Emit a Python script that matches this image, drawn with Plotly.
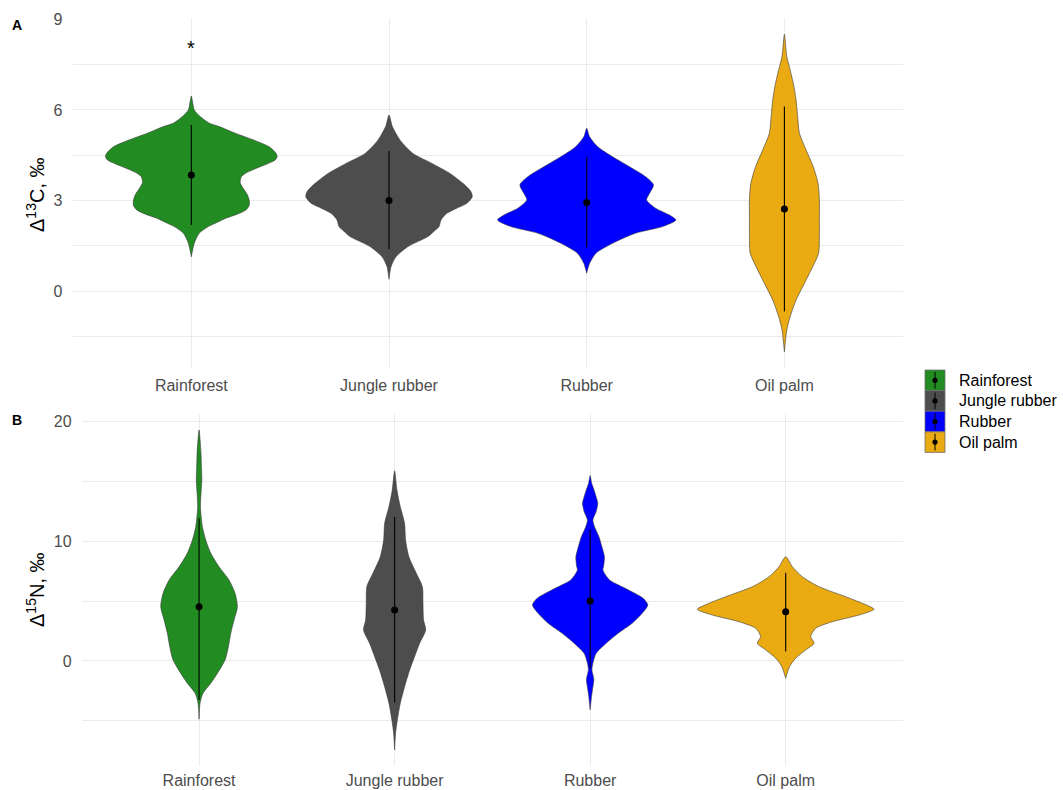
import plotly.graph_objects as go

categories = ["Rainforest", "Jungle rubber", "Rubber", "Oil palm"]
colors = ["#228B22", "#4D4D4D", "#0000FF", "#EAAA11"]

# ---- Panel A: delta 13C  (density profile: value, half-width in category units)
c13_rf_y = [6.46, 6.2, 6.0, 5.78, 5.56, 5.45, 5.23, 5.01, 4.78, 4.56, 4.45, 4.34, 4.23, 4.12, 4.01,
            3.9, 3.79, 3.6, 3.4, 3.2, 3.0, 2.85, 2.7, 2.55, 2.41, 2.25, 2.14, 1.92, 1.59, 1.14]
c13_rf_w = [0, .008, .015, .045, .091, .141, .222, .313, .394, .429, .434, .424, .389, .348, .308,
            .273, .253, .247, .263, .283, .293, .293, .278, .232, .172, .121, .086, .040, .015, 0]
c13_jr_y = [5.83, 5.45, 5.0, 4.56, 4.23, 3.9, 3.57, 3.30, 3.13, 2.91, 2.75, 2.58, 2.36, 2.14, 1.98,
            1.81, 1.48, 1.14, 0.81, 0.40]
c13_jr_w = [0, .017, .056, .121, .217, .308, .374, .414, .421, .394, .343, .293, .263, .253, .227,
            .197, .096, .035, .010, 0]
c13_ru_y = [5.39, 5.12, 4.78, 4.45, 4.12, 3.79, 3.52, 3.24, 3.02, 2.75, 2.52, 2.36, 2.14, 1.92, 1.59,
            1.26, 0.93, 0.60]
c13_ru_w = [0, .014, .056, .131, .217, .298, .338, .318, .303, .348, .419, .451, .384, .247, .131,
            .047, .015, 0]
c13_op_y = [8.50, 7.76, 7.43, 6.88, 6.33, 5.78, 5.23, 4.67, 4.12, 3.57, 3.02, 2.47, 1.92, 1.26, 0.81,
            0.26, -0.29, -0.84, -1.28, -2.0]
c13_op_w = [0, .012, .025, .045, .059, .067, .076, .110, .146, .170, .177, .177, .177, .173, .143,
            .101, .059, .029, .012, 0]
c13_mean = [3.85, 3.00, 2.94, 2.72]
c13_lo = [2.19, 1.39, 1.46, -0.67]
c13_hi = [5.50, 4.64, 4.43, 6.11]
c13_sig = ["*", "", "", ""]
c13_sig_y = [8.15, None, None, None]

# ---- Panel B: delta 15N
n15_rf_y = [19.3, 17.35, 16.23, 15.12, 14.01, 12.89, 11.22, 10.11, 9.0, 7.88, 6.77, 5.66, 4.54, 3.43,
            2.31, 1.19, 0.08, -1.03, -1.86, -2.7, -3.53, -4.87]
n15_rf_w = [0, .010, .012, .014, .010, .007, .017, .034, .060, .102, .153, .184, .196, .179,
            .162, .150, .133, .094, .060, .020, .005, 0]
n15_jr_y = [15.9, 14.29, 12.89, 11.5, 10.11, 8.71, 7.33, 6.21, 4.82, 3.43, 2.59, 1.48, 0.36, -0.75,
            -2.15, -3.53, -4.93, -6.04, -7.44]
n15_jr_w = [0, .012, .029, .051, .056, .073, .111, .142, .145, .148, .159, .128, .102, .077,
            .051, .029, .014, .005, 0]
n15_ru_y = [15.5, 14.85, 14.3, 13.6, 13.17, 12.5, 11.78, 11.2, 10.38, 9.5, 8.71, 7.9, 7.6, 6.77, 6.2,
            5.6, 5.24, 4.68, 3.98, 3.15, 2.31, 1.48, 0.64, -0.19, -0.75, -1.2, -1.59, -2.3, -2.98, -4.09]
n15_ru_w = [0, .008, .020, .033, .039, .031, .014, .023, .045, .061, .073, .069, .065, .099, .164,
            .235, .271, .295, .266, .215, .143, .082, .031, .014, .009, .015, .019, .013, .007, 0]
n15_op_y = [8.71, 7.88, 7.04, 6.21, 5.37, 4.82, 4.32, 3.84, 3.28, 2.73, 2.03, 1.48, 0.92, 0.23,
            -0.47, -1.45]
n15_op_w = [0, .034, .085, .170, .307, .392, .452, .375, .239, .153, .128, .145, .102, .051,
            .020, 0]
n15_mean = [4.54, 4.26, 5.01, 4.12]
n15_lo = [-3.26, -3.48, -0.60, 0.78]
n15_hi = [11.92, 12.06, 11.00, 7.38]

c13_profiles = [(c13_rf_y, c13_rf_w), (c13_jr_y, c13_jr_w), (c13_ru_y, c13_ru_w), (c13_op_y, c13_op_w)]
n15_profiles = [(n15_rf_y, n15_rf_w), (n15_jr_y, n15_jr_w), (n15_ru_y, n15_ru_w), (n15_op_y, n15_op_w)]

W, H = 1063, 790
FONT = "Liberation Sans, Arial, sans-serif"
GRID = "#EBEBEB"
fig = go.Figure()


def add_panel(profiles, mean, lo, hi, xa, ya):
    for i, (ys, ws) in enumerate(profiles):
        pos = i + 1
        xs = [pos + w for w in ws] + [pos - w for w in reversed(ws)]
        yy = list(ys) + list(reversed(ys))
        fig.add_trace(go.Scatter(
            x=xs, y=yy, mode="lines", fill="toself", fillcolor=colors[i],
            line=dict(color="#3A3A3A", width=0.6, shape="spline", smoothing=0.7),
            xaxis=xa, yaxis=ya, hoverinfo="skip", showlegend=False))
    lx, ly = [], []
    for i in range(len(categories)):
        lx += [i + 1, i + 1, None]
        ly += [lo[i], hi[i], None]
    fig.add_trace(go.Scatter(x=lx, y=ly, mode="lines", line=dict(color="black", width=1.1),
                             xaxis=xa, yaxis=ya, hoverinfo="skip", showlegend=False))
    fig.add_trace(go.Scatter(x=[i + 1 for i in range(len(categories))], y=mean, mode="markers",
                             marker=dict(color="black", size=7), xaxis=xa, yaxis=ya,
                             hoverinfo="skip", showlegend=False))


add_panel(c13_profiles, c13_mean, c13_lo, c13_hi, "x", "y")
add_panel(n15_profiles, n15_mean, n15_lo, n15_hi, "x2", "y2")

for i, s in enumerate(c13_sig):
    if s:
        fig.add_annotation(x=i + 1, y=c13_sig_y[i], xref="x", yref="y", text=s, showarrow=False,
                           xanchor="center", yanchor="middle", yshift=-3,
                           font=dict(size=20, color="black", family=FONT))

xcommon = dict(range=[0.4, 4.6], tickmode="array", tickvals=[1, 2, 3, 4], ticktext=categories,
               showgrid=True, gridcolor=GRID, gridwidth=1.1, zeroline=False, showline=False,
               ticks="outside", tickcolor="rgba(0,0,0,0)", automargin=False,
               tickfont=dict(size=16, color="#4D4D4D", family=FONT), fixedrange=True)
ycommon = dict(showgrid=True, gridcolor=GRID, gridwidth=1.1, zeroline=False, showline=False,
               ticks="outside", ticklen=6, tickcolor="rgba(0,0,0,0)", automargin=False,
               tickfont=dict(size=16, color="#4D4D4D", family=FONT), fixedrange=True)

fig.update_layout(
    width=W, height=H, margin=dict(l=0, r=0, t=0, b=0, pad=0), autosize=False,
    paper_bgcolor="white", plot_bgcolor="white", showlegend=False,
    font=dict(family=FONT),
    xaxis=dict(domain=[0.0684, 0.8495], anchor="y", ticklen=3, **xcommon),
    yaxis=dict(domain=[0.5347, 0.9766], anchor="x", range=[-2.525, 9.025], tick0=0, dtick=3,
               minor=dict(tick0=0, dtick=1.5, showgrid=True, gridcolor=GRID, gridwidth=0.9),
               **ycommon),
    xaxis2=dict(domain=[0.0769, 0.8495], anchor="y2", ticklen=0, **xcommon),
    yaxis2=dict(domain=[0.0304, 0.4759], anchor="x2", range=[-8.78, 20.64], tick0=0, dtick=10,
                minor=dict(tick0=0, dtick=5, showgrid=True, gridcolor=GRID, gridwidth=0.9),
                **ycommon),
)

# axis titles and panel tags
for txt, yc in [("Δ<sup>13</sup>C, ‰", 195), ("Δ<sup>15</sup>N, ‰", 590)]:
    fig.add_annotation(x=35 / W, y=1 - yc / H, xref="paper", yref="paper", text=txt,
                       textangle=-90, showarrow=False, xanchor="center", yanchor="middle",
                       font=dict(size=20, color="black", family=FONT))
for txt, yc in [("<b>A</b>", 25), ("<b>B</b>", 420)]:
    fig.add_annotation(x=17 / W, y=1 - yc / H, xref="paper", yref="paper", text=txt,
                       showarrow=False, xanchor="center", yanchor="middle",
                       font=dict(size=14, color="black", family=FONT))

# legend (drawn manually to mimic ggplot keys)
key_x0, key_x1 = 925, 945
key_top, key_h = 370, 20.6
for i, cat in enumerate(categories):
    t = key_top + i * key_h
    b = t + key_h
    fig.add_shape(type="rect", xref="paper", yref="paper", x0=key_x0 / W, x1=key_x1 / W,
                  y0=1 - b / H, y1=1 - t / H, fillcolor=colors[i], line=dict(color="#6E6E6E", width=0.8))
    cx = (key_x0 + key_x1) / 2
    fig.add_shape(type="line", xref="paper", yref="paper", x0=cx / W, x1=cx / W,
                  y0=1 - (b - 2) / H, y1=1 - (t + 2) / H, line=dict(color="black", width=1))
    cy = (t + b) / 2
    fig.add_shape(type="circle", xref="paper", yref="paper", x0=(cx - 2.6) / W, x1=(cx + 2.6) / W,
                  y0=1 - (cy + 2.6) / H, y1=1 - (cy - 2.6) / H, fillcolor="black", line=dict(width=0))
    fig.add_annotation(x=957 / W, y=1 - cy / H, xref="paper", yref="paper", text=cat,
                       xanchor="left", yanchor="middle", showarrow=False,
                       font=dict(size=16, color="black", family=FONT))

fig.write_html("out.html", config={"responsive": False, "displayModeBar": False})

# remove the default page margin so the figure sits at the window origin
with open("out.html", "r", encoding="utf-8") as f:
    html = f.read()
html = html.replace("<head>", "<head><style>html,body{margin:0;padding:0;overflow:hidden;}</style>", 1)
with open("out.html", "w", encoding="utf-8") as f:
    f.write(html)
